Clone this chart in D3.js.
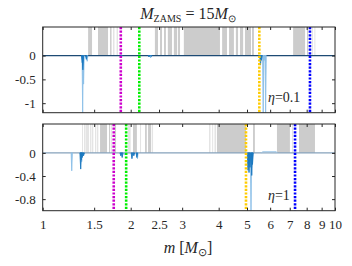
<!DOCTYPE html>
<html>
<head>
<meta charset="utf-8">
<script src="https://cdn.jsdelivr.net/npm/d3@7"></script>
<style>
    body { margin: 0; background: #fff; }
    svg text { font-family: "Liberation Serif", "Times New Roman", serif; fill: #262626; }
</style>
</head>
<body>
<div id="chart"></div>
<script>
// tick labels
var xTicks = [1, 1.5, 2, 2.5, 3, 4, 5, 6, 7, 8, 9, 10];
var topTicks = [0, -0.5, -1];
var botTicks = [0, -0.4, -0.8];

// grey bands above zero, [from, to] in m
var topBands = [[1.43, 1.475], [1.546, 1.673], [1.70, 1.72], [2.42, 2.48], [2.52, 2.56], [2.60, 2.64],
    [2.68, 2.77], [2.81, 2.88], [2.90, 2.95], [3.04, 4.04], [4.11, 4.27], [4.34, 4.51], [4.58, 4.66],
    [4.73, 4.85], [4.92, 5.16], [5.20, 5.28], [7.19, 7.90], [8.02, 8.09]];
var topFaint = [[1.74, 1.76], [1.79, 1.81], [8.34, 8.40], [8.50, 8.54]];
var botBands = [[1.571, 1.66], [1.686, 1.70], [1.768, 1.78], [2.037, 2.10], [2.24, 2.27], [2.293, 2.35],
    [3.947, 4.96], [5.243, 5.32], [6.33, 7.01], [7.53, 8.54]];
var botFaint = [[1.363, 1.371], [1.385, 1.395], [1.40, 1.44], [1.451, 1.46], [1.47, 1.49], [1.51, 1.52],
    [1.53, 1.55], [1.71, 1.725], [1.958, 2.0], [2.152, 2.17], [2.365, 2.385], [3.707, 3.75],
    [3.80, 3.83], [3.87, 3.92], [7.13, 7.18]];

// negative spikes, [m, value]
var topDark = [[1.366, -0.15], [1.372, -0.3], [1.41, -0.08], [1.86, -0.02], [2.31, -0.03], [2.35, -0.02],
    [5.53, -0.05], [5.56, -0.2], [5.60, -0.1]];
var topLight = [[1.37, -1.2], [1.38, -0.6], [1.42, -0.12], [2.34, -0.05], [5.68, -1.2], [5.70, -0.12],
    [5.72, -0.1], [5.79, -1.2]];
var botDark = [[1.349, -0.28], [1.355, -0.12], [1.365, -0.08], [1.38, -0.05], [1.85, -0.05], [1.87, -0.08],
    [2.02, -0.1], [2.05, -0.05], [2.10, -0.08], [5.04, -0.3], [5.08, -0.34], [5.12, -0.25],
    [5.19, -0.39], [5.22, -0.2]];
var botLight = [[1.257, -0.31], [1.36, -0.15], [1.90, -0.03], [2.11, -0.1], [5.16, -1.0]];
var botBump = [[5.60, 0], [5.66, 0.02], [6.30, 0.02], [6.34, 0]];

// dotted markers
var topMarks = [1.85, 2.14, 5.51, 8.21];
var botMarks = [1.75, 1.93, 4.96, 7.30];
var markColors = ['#cc00cc', '#00ee00', '#ffcc00', '#0000ff'];

var width = 352, height = 266;
var svg = d3.select('#chart').append('svg')
    .attr('width', width)
    .attr('height', height);

var x = d3.scaleLog().domain([1, 10]).range([42.7, 335]);

function panel(cfg) {
    var y = d3.scaleLinear().domain(cfg.yDomain).range([cfg.bottom, cfg.top]);
    var g = svg.append('g');
    var clipId = 'clip' + cfg.top;
    g.append('clipPath').attr('id', clipId)
        .append('rect')
        .attr('x', x(1)).attr('y', cfg.top)
        .attr('width', x(10) - x(1)).attr('height', cfg.bottom - cfg.top);
    var inner = g.append('g').attr('clip-path', 'url(#' + clipId + ')');

    function bands(data, color) {
        inner.selectAll(null).data(data).enter().append('rect')
            .attr('x', function (d) { return x(d[0]); })
            .attr('width', function (d) { return Math.max(1, x(d[1]) - x(d[0])); })
            .attr('y', cfg.top)
            .attr('height', y(0) - cfg.top)
            .style('fill', color);
    }
    bands(cfg.faint, '#e4e4e4');
    bands(cfg.bands, '#cccccc');

    inner.append('line')
        .attr('x1', x(1)).attr('x2', x(10))
        .attr('y1', y(0)).attr('y2', y(0))
        .style('stroke', cfg.zeroColor).style('stroke-width', 1.2);

    if (cfg.bump) {
        inner.append('path')
            .attr('d', d3.line().x(function (d) { return x(d[0]); }).y(function (d) { return y(d[1]); })(cfg.bump))
            .style('fill', 'none').style('stroke', '#9cc6e6').style('stroke-width', 1);
    }

    function spikes(data, color, hw) {
        inner.selectAll(null).data(data).enter().append('path')
            .attr('d', function (d) {
                var px = x(d[0]);
                return 'M' + (px - hw) + ',' + y(0) + 'L' + px + ',' + y(d[1]) + 'L' + (px + hw) + ',' + y(0) + 'Z';
            })
            .style('fill', color).style('stroke', color).style('stroke-width', 0.9);
    }
    spikes(cfg.light, '#8cc0e8', 0.6);
    spikes(cfg.dark, '#1b78c0', 0.8);

    inner.selectAll(null).data(cfg.marks).enter().append('line')
        .attr('x1', function (d) { return x(d); })
        .attr('x2', function (d) { return x(d); })
        .attr('y1', cfg.top).attr('y2', cfg.bottom)
        .style('stroke', function (d, i) { return markColors[i]; })
        .style('stroke-width', 2.6)
        .style('stroke-dasharray', '2.2,1.4');

    // axes
    var fmt = function (d) { return String(d); };
    var ax = [
        d3.axisLeft(y).tickValues(cfg.yTicks).tickFormat(fmt).tickPadding(7),
        d3.axisRight(y).tickValues(cfg.yTicks).tickFormat(''),
        d3.axisBottom(x).tickValues(xTicks).tickFormat(cfg.xLabels ? fmt : '').tickPadding(9),
        d3.axisTop(x).tickValues(xTicks).tickFormat('')
    ];
    var pos = [
        'translate(' + x(1) + ',0)', 'translate(' + x(10) + ',0)',
        'translate(0,' + cfg.bottom + ')', 'translate(0,' + cfg.top + ')'
    ];
    ax.forEach(function (a, i) {
        var ag = g.append('g').attr('transform', pos[i])
            .call(a.tickSizeInner(-3).tickSizeOuter(0));
        ag.select('.domain').remove();
        ag.selectAll('line').style('stroke', '#262626');
        ag.selectAll('text').style('font-size', '13px')
            .style('font-family', '"Liberation Serif", serif').style('fill', '#262626');
    });

    g.append('rect')
        .attr('x', x(1)).attr('y', cfg.top)
        .attr('width', x(10) - x(1)).attr('height', cfg.bottom - cfg.top)
        .style('fill', 'none').style('stroke', '#262626').style('stroke-width', 1);

    var t = g.append('text')
        .attr('x', cfg.etaX).attr('y', cfg.etaY)
        .style('font-size', '14px');
    t.append('tspan').style('font-style', 'italic').text('η');
    t.append('tspan').text('=' + cfg.eta);
}

panel({
    top: 27, bottom: 112.7, yDomain: [-1.2, 0.6], yTicks: topTicks,
    bands: topBands, faint: topFaint, dark: topDark, light: topLight,
    marks: topMarks, zeroColor: '#1d4a74', xLabels: false,
    eta: '0.1', etaX: 268, etaY: 102
});
panel({
    top: 124, bottom: 210.7, yDomain: [-1, 0.5], yTicks: botTicks,
    bands: botBands, faint: botFaint, dark: botDark, light: botLight, bump: botBump,
    marks: botMarks, zeroColor: '#86a2bb', xLabels: true,
    eta: '1', etaX: 268, etaY: 200
});

// title
var title = svg.append('text')
    .attr('x', 188).attr('y', 19)
    .style('text-anchor', 'middle')
    .style('font-size', '16px');
title.append('tspan').style('font-style', 'italic').text('M');
title.append('tspan').attr('dy', 3).style('font-size', '10px').text('ZAMS');
title.append('tspan').attr('dy', -3).text(' = 15');
title.append('tspan').style('font-style', 'italic').text('M');
title.append('tspan').attr('dy', 3).style('font-size', '10px').text('⊙');

// x label
var xl = svg.append('text')
    .attr('x', 188).attr('y', 253)
    .style('text-anchor', 'middle')
    .style('font-size', '16px');
xl.append('tspan').style('font-style', 'italic').text('m');
xl.append('tspan').text(' [');
xl.append('tspan').style('font-style', 'italic').text('M');
xl.append('tspan').attr('dy', 3).style('font-size', '11px').text('⊙');
xl.append('tspan').attr('dy', -3).text(']');
</script>
</body>
</html>
